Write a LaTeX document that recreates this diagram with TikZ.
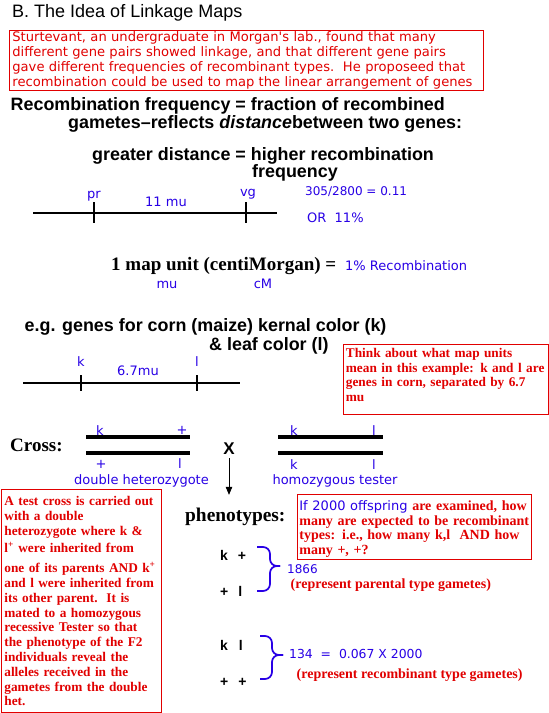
\documentclass[tikz,border=0pt]{standalone}
\usepackage{fontspec}
\setmainfont{Liberation Serif}
\setsansfont{Liberation Sans}
\newfontfamily\gfont{DejaVu Sans}
\usetikzlibrary{arrows.meta}
\definecolor{redc}{RGB}{225,0,0}
\definecolor{bluec}{RGB}{40,0,230}

\begin{document}
\begin{tikzpicture}[
  x=1pt, y=-1pt,
  hd/.style={anchor=base west, inner sep=0pt, font=\sffamily\bfseries\fontsize{17.9}{20}\selectfont},
  lab/.style={anchor=base, text=bluec, inner sep=0pt, font=\gfont\fontsize{13}{15}\selectfont},
  note/.style={draw=redc, text=redc, line width=0.8pt, align=left, anchor=north west,
               inner xsep=2pt, inner ysep=2pt, font=\bfseries\fontsize{14}{14.5}\selectfont},
  big/.style={anchor=base west, inner sep=0pt, font=\bfseries\fontsize{19}{21}\selectfont},
  gen/.style={anchor=base west, inner sep=0pt, font=\sffamily\bfseries\fontsize{14}{16}\selectfont},
  rem/.style={anchor=base west, inner sep=0pt, text=redc, font=\bfseries\fontsize{14}{16}\selectfont},
  tick/.style={line width=2.8pt},
  chrom/.style={line width=3.4pt},
  brc/.style={draw=bluec, line width=1.7pt, rounded corners=7pt},
  fl/.style={-{Triangle[length=8pt, width=6.5pt]}, thick}
]
\useasboundingbox[fill=white] (0,0) rectangle (549,713);

% ---------- title and intro ----------
\node[anchor=base west, inner sep=0pt, font=\sffamily\fontsize{18}{20}\selectfont] (ttl) at (12,17.5) {B. The Idea of Linkage Maps};
\node[note, inner xsep=3pt, font=\gfont\fontsize{13.1}{14.8}\selectfont,
      text width=468pt, text height=9.5pt, text depth=46.5pt] (intro) at (9,30)
  {Sturtevant, an undergraduate in Morgan's lab., found that many\\
   different gene pairs showed linkage, and that different gene pairs\\
   gave different frequencies of recombinant types.\ \ He proposeed that\\
   recombination could be used to map the linear arrangement of genes};

% ---------- recombination frequency ----------
\node[hd] (rf1) at (10.5,110) {Recombination frequency = fraction of recombined};
\node[hd] (rf2) at (68,128.5) {gametes--reflects \textit{distance}between two genes:};
\node[hd] (gd1) at (92,160) {greater distance = higher recombination};
\node[hd] (gd2) at (252,177) {frequency};

% ---------- pr -- vg map ----------
\draw[line width=2.5pt] (33,213) -- (277,213);
\draw[tick] (94,202) -- (94,223);
\draw[tick] (246,202) -- (246,223);
\node[lab] (pr) at (94,198.5) {pr};
\node[lab] (vg) at (248,196.5) {vg};
\node[lab] (mu1) at (166,206.5) {11 mu};
\node[lab, anchor=base west, font=\gfont\fontsize{12}{14}\selectfont] (fr1) at (305,195) {305/2800 = 0.11};
\node[lab, anchor=base west] (fr2) at (307,222) {OR\ \ 11\%};

% ---------- map unit ----------
\node[big] (mapu) at (111,270) {1 map unit (centiMorgan) =};
\node[lab, anchor=base west] (pct) at (345,270) {1\% Recombination};
\node[lab] (mu) at (167,288) {mu};
\node[lab] (cm) at (263,288) {cM};

% ---------- corn example ----------
\node[hd] (eg1) at (24.5,331) {e.g. genes for corn (maize) kernal color (k)};
\node[hd] (eg2) at (209,350) {\& leaf color (l)};
\draw[line width=2.5pt] (23,383) -- (240,383);
\draw[tick] (81,375) -- (81,391);
\draw[tick] (197,375) -- (197,391);
\node[lab] (gk) at (81,366.5) {k};
\node[lab] (gl) at (197,366.5) {l};
\node[lab] (mu2) at (138,375) {6.7mu};
\node[note, inner xsep=2.5pt, font=\bfseries\fontsize{13.3}{14.7}\selectfont,
      text width=200pt, text height=11pt, text depth=55pt] (think) at (343,344)
  {Think about what map units\\
   mean in this example: k and l are\\
   genes in corn, separated by 6.7\\
   mu};

% ---------- cross ----------
\node[big] (cross) at (10,451) {Cross:};
\draw[chrom] (86,437) -- (190,437);
\draw[chrom] (86,453) -- (190,453);
\node[lab] (hk1) at (100,435) {k};
\node[lab] (hp1) at (182,434) {+};
\node[lab] (hp2) at (101,468) {+};
\node[lab] (hl2) at (180,468) {l};
\node[lab] (dh) at (141.5,484) {double heterozygote};
\node[inner sep=0pt, font=\sffamily\bfseries\fontsize{17}{19}\selectfont] (xs) at (229,449) {X};
\draw[chrom] (278,437) -- (383,437);
\draw[chrom] (278,453) -- (383,453);
\node[lab] (tk1) at (294,435) {k};
\node[lab] (tl1) at (374,435) {l};
\node[lab] (tk2) at (294,469) {k};
\node[lab] (tl2) at (374,469) {l};
\node[lab] (ht) at (335,484) {homozygous tester};

% ---------- test cross note ----------
\node[note, inner xsep=3pt, font=\bfseries\fontsize{13.3}{14.8}\selectfont,
      text width=154pt, text height=14pt, text depth=205pt] (test) at (1,489)
  {A test cross is carried out\\
   with a double\\
   heterozygote where k \&\\[3pt]
   l\textsuperscript{+} were inherited from\\[5pt]
   one of its parents AND k\textsuperscript{+}\\
   and l were inherited from\\
   its other parent.\ \ It is\\
   mated to a homozygous\\
   recessive Tester so that\\
   the phenotype of the F2\\
   individuals reveal the\\
   alleles received in the\\
   gametes from the double\\
   het.};

% ---------- phenotypes ----------
\node[big, font=\bfseries\fontsize{19.4}{21}\selectfont] (ph) at (185,521) {phenotypes:};
\draw[fl, shorten <=3pt, shorten >=12.5pt] (xs.south) -- (xs.south |- ph.north);
\node[note, text width=230pt, text height=14.5pt, text depth=46.5pt] (off) at (297,494)
  {{\color{bluec}\gfont\mdseries\fontsize{13}{14.5}\selectfont If 2000 offspring} are examined, how\\
   many are expected to be recombinant\\
   types: i.e., how many k,l\ \ AND how\\
   many +, +?};

\node[gen] (p1) at (220,560) {k\hspace{10pt}+};
\node[gen] (p2) at (220,596) {+\hspace{10pt}l};
\coordinate (b1t) at (257,547);
\coordinate (b1m) at (280,566);
\coordinate (b1b) at (257,591);
\draw[brc] (b1t) -- ++(13,0) |- (b1m);
\draw[brc] (b1b) -- ++(13,0) |- (b1m);
\node[lab, anchor=base west, font=\gfont\fontsize{12}{14}\selectfont] (n1) at (287,573) {1866};
\node[rem] (r1) at (290.5,588) {(represent parental type gametes)};

\node[gen] (p3) at (220,650) {k\hspace{11pt}l};
\node[gen] (p4) at (220,686.5) {+\hspace{10pt}+};
\coordinate (b2t) at (260,636);
\coordinate (b2m) at (283,655);
\coordinate (b2b) at (260,679);
\draw[brc] (b2t) -- ++(12,0) |- (b2m);
\draw[brc] (b2b) -- ++(12,0) |- (b2m);
\node[lab, anchor=base west, font=\gfont\fontsize{12.4}{14}\selectfont] (n2) at (289,658.5) {134\ \ =\ \ 0.067 X 2000};
\node[rem] (r2) at (296.5,678) {(represent recombinant type gametes)};

\end{tikzpicture}
\end{document}
